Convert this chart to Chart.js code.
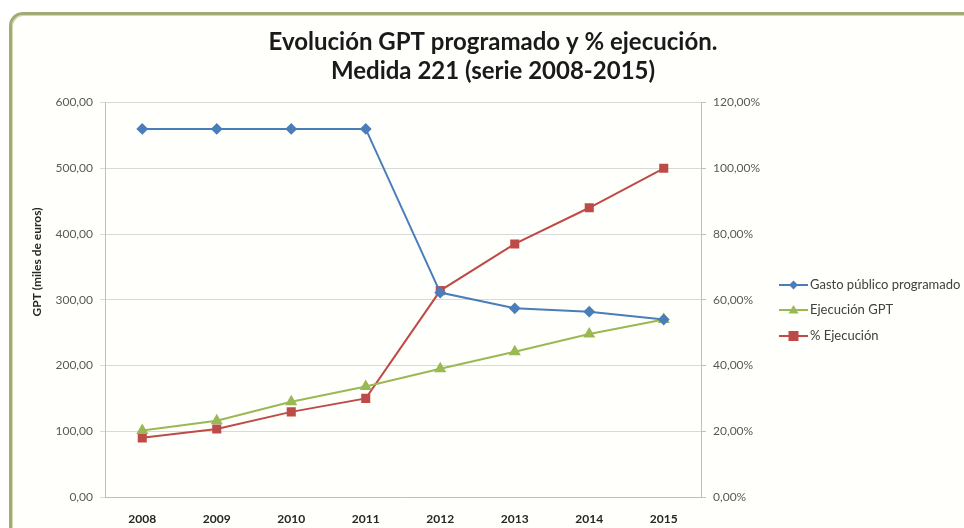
<!DOCTYPE html>
<html>
<head>
<meta charset="utf-8">
<script src="https://cdn.jsdelivr.net/npm/chart.js@4"></script>
<style>
  html, body { margin: 0; padding: 0; background: #ffffff; overflow: hidden; }
  #frame {
    position: absolute; left: 9px; top: 12px; width: 1000px; height: 560px;
    border: 3px solid #a4aa74; border-radius: 14px; background: #fffffb;
    box-shadow: inset 1px 1px 0 #d6dab4;
  }
  #chart { position: absolute; left: 0; top: 0; }
</style>
</head>
<body>
<div id="frame"></div>
<canvas id="chart" width="964" height="528"></canvas>
<script>
// data
const years = ["2008", "2009", "2010", "2011", "2012", "2013", "2014", "2015"];
const gastoProgramado = [560, 560, 560, 560, 311, 287, 282, 270];
const ejecucionGPT = [101, 116, 145, 168, 195, 221, 248, 270];
const pctEjecucion = [18.0, 20.7, 25.9, 30.0, 62.8, 77.0, 88.0, 100.0];

const fmt = v => v.toFixed(2).replace(".", ",");

// legend drawn Excel style: line + marker, to the right of the plot
const sideLegend = {
  id: "sideLegend",
  afterDraw(chart) {
    const ctx = chart.ctx;
    const x0 = 779, ys = [285, 310, 336];
    chart.data.datasets.forEach((ds, i) => {
      const y = ys[i];
      const cx = x0 + 14.5;
      ctx.save();
      ctx.strokeStyle = ds.borderColor;
      ctx.lineWidth = 2;
      ctx.beginPath();
      ctx.moveTo(x0, y);
      ctx.lineTo(x0 + 29, y);
      ctx.stroke();
      ctx.fillStyle = ds.pointBackgroundColor;
      const r = ds.pointRadius;
      ctx.beginPath();
      if (ds.pointStyle === "rectRot") {
        ctx.moveTo(cx, y - r); ctx.lineTo(cx + r, y);
        ctx.lineTo(cx, y + r); ctx.lineTo(cx - r, y);
      } else if (ds.pointStyle === "triangle") {
        ctx.moveTo(cx, y - r); ctx.lineTo(cx + r, y + r * 0.7);
        ctx.lineTo(cx - r, y + r * 0.7);
      } else {
        ctx.rect(cx - r, y - r, 2 * r, 2 * r);
      }
      ctx.closePath();
      ctx.fill();
      ctx.fillStyle = "#404040";
      ctx.font = "13px Lato";
      ctx.textBaseline = "middle";
      ctx.fillText(ds.label, x0 + 31, y);
      ctx.restore();
    });
    // left axis title
    ctx.save();
    ctx.translate(37, 262);
    ctx.rotate(-Math.PI / 2);
    ctx.fillStyle = "#262626";
    ctx.font = "bold 12px Lato";
    ctx.textAlign = "center";
    ctx.textBaseline = "middle";
    ctx.fillText("GPT (miles de euros)", 0, 0);
    ctx.restore();
  }
};

new Chart(document.getElementById("chart"), {
  type: "line",
  data: {
    labels: years,
    datasets: [
      {
        label: "Gasto público programado",
        data: gastoProgramado,
        yAxisID: "y",
        borderColor: "#4a7ebb",
        pointBackgroundColor: "#4a7ebb",
        pointBorderColor: "#4a7ebb",
        pointStyle: "rectRot",
        pointRadius: 4.5,
        borderWidth: 2
      },
      {
        label: "Ejecución GPT",
        data: ejecucionGPT,
        yAxisID: "y",
        borderColor: "#98b954",
        pointBackgroundColor: "#98b954",
        pointBorderColor: "#98b954",
        pointStyle: "triangle",
        pointRadius: 5,
        borderWidth: 2
      },
      {
        label: "% Ejecución",
        data: pctEjecucion,
        yAxisID: "y1",
        borderColor: "#be4b48",
        pointBackgroundColor: "#be4b48",
        pointBorderColor: "#be4b48",
        pointStyle: "rect",
        pointRadius: 5,
        borderWidth: 2
      }
    ]
  },
  options: {
    responsive: false,
    animation: false,
    layout: { padding: { top: 14, left: 22, right: 0, bottom: 0 } },
    plugins: {
      legend: { display: false },
      tooltip: { enabled: false },
      title: {
        display: true,
        text: ["Evolución GPT programado y % ejecución.", "Medida 221 (serie 2008-2015)"],
        color: "#1a1a1a",
        font: { family: "Lato", size: 24, weight: "bold", lineHeight: 1.2 },
        padding: { top: 14, bottom: 17 }
      }
    },
    scales: {
      x: {
        offset: true,
        grid: { display: false },
        border: { display: true, color: "#bfbfbf" },
        ticks: { color: "#262626", font: { family: "Lato", size: 12, weight: "bold" }, padding: 7 },
        afterFit: s => { s.height = 31; }
      },
      y: {
        position: "left",
        min: 0, max: 600,
        ticks: { stepSize: 100, color: "#595959", font: { family: "Lato", size: 12 }, padding: 7, callback: v => fmt(v) },
        grid: { color: "#d9d9d9", tickLength: 5 },
        border: { display: true, color: "#bfbfbf" },
        afterFit: s => { s.width = 83; }
      },
      y1: {
        position: "right",
        min: 0, max: 120,
        ticks: { stepSize: 20, color: "#595959", font: { family: "Lato", size: 12 }, padding: 7, callback: v => fmt(v) + "%" },
        grid: { drawOnChartArea: false, color: "#bfbfbf", tickLength: 5 },
        border: { display: true, color: "#bfbfbf" },
        afterFit: s => { s.width = 263; }
      }
    }
  },
  plugins: [sideLegend]
});
</script>
</body>
</html>
